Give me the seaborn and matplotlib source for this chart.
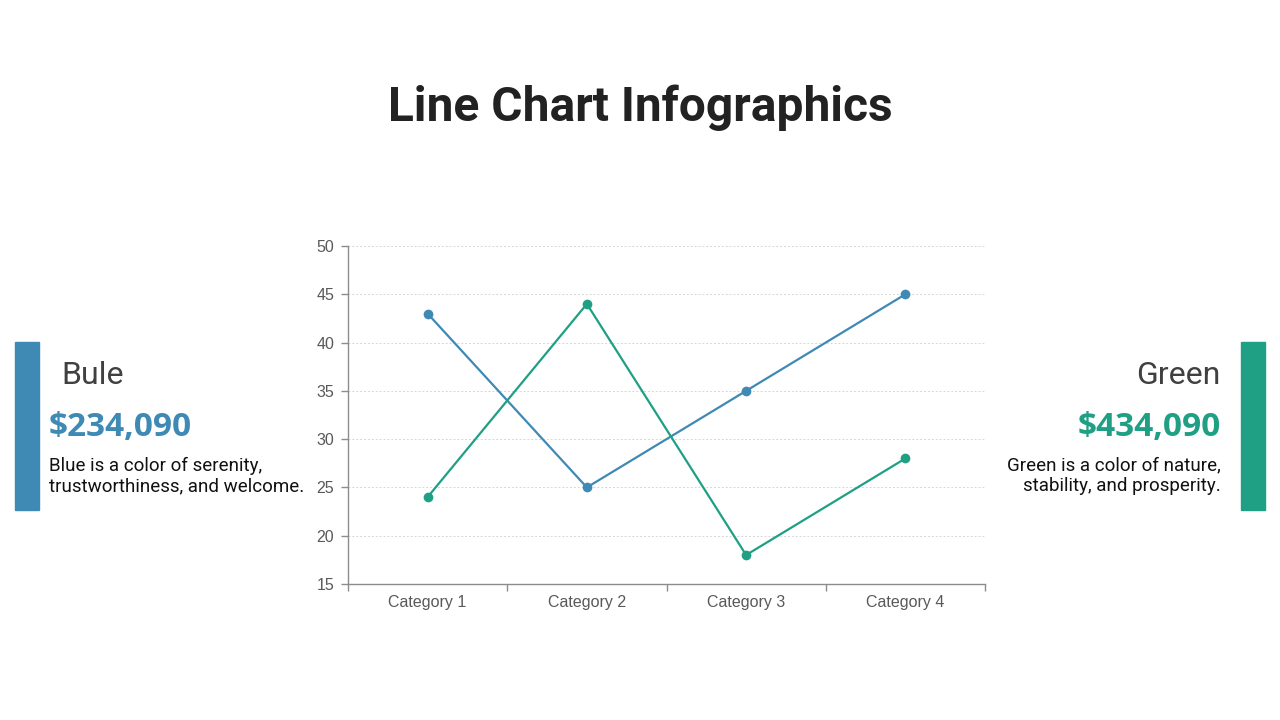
import matplotlib
matplotlib.use("Agg")
import matplotlib.pyplot as plt
import seaborn as sns
import pandas as pd
import numpy as np

categories = ["Category 1", "Category 2", "Category 3", "Category 4"]
blue_values = [43, 25, 35, 45]
green_values = [24, 44, 18, 28]
series_names = ["Bule", "Green"]
y_ticks = [15, 20, 25, 30, 35, 40, 45, 50]

BLUE = "#3f89b5"
GREEN = "#1f9f84"

sns.set_theme(style="white")
plt.rcParams["font.family"] = ["Roboto", "DejaVu Sans"]

df = pd.DataFrame({
    "cat": list(range(len(categories))) * 2,
    "value": blue_values + green_values,
    "series": [series_names[0]] * len(categories) + [series_names[1]] * len(categories),
})

fig = plt.figure(figsize=(12.8, 7.2), dpi=100)
ax = fig.add_axes([348 / 1280, 1 - 584 / 720, (985 - 348) / 1280, (584 - 246) / 720])

sns.lineplot(data=df, x="cat", y="value", hue="series",
             palette={series_names[0]: BLUE, series_names[1]: GREEN},
             marker="o", markersize=7, markeredgewidth=0, linewidth=1.6,
             legend=False, ax=ax)

ax.set_xlim(-0.5, len(categories) - 0.5)
ax.set_ylim(15, 50)
ax.set_yticks(y_ticks)
ax.set_yticklabels([str(v) for v in y_ticks], family="Liberation Sans", fontsize=11.5, color="#595959")
ax.set_xticks(range(len(categories)))
ax.set_xticklabels(categories, family="Liberation Sans", fontsize=11.5, color="#595959")
ax.set_xticks(np.arange(-0.5, len(categories), 1.0), minor=True)
ax.tick_params(axis="x", which="major", length=0, pad=8)
ax.tick_params(axis="x", which="minor", length=5, color="#8c8c8c", width=1, direction="out", bottom=True)
ax.tick_params(axis="y", which="major", length=5, color="#8c8c8c", width=1, direction="out", left=True, pad=5)
ax.set_xlabel("")
ax.set_ylabel("")
ax.grid(axis="y", color="#d6d6d6", linestyle=(0, (2, 2)), linewidth=0.7)
ax.set_axisbelow(True)
for s in ["top", "right"]:
    ax.spines[s].set_visible(False)
for s in ["left", "bottom"]:
    ax.spines[s].set_color("#8c8c8c")
    ax.spines[s].set_linewidth(1)

# Title
fig.text(0.5, 1 - 108 / 720, "Line Chart Infographics", ha="center", va="center",
         fontsize=34.5, fontweight="bold", color="#222222", family="Roboto")

# Side panels
fig.patches.append(plt.Rectangle((15 / 1280, 1 - 510 / 720), 24 / 1280, 168 / 720,
                                 transform=fig.transFigure, color=BLUE, zorder=1))
fig.patches.append(plt.Rectangle((1241 / 1280, 1 - 510 / 720), 24 / 1280, 168 / 720,
                                 transform=fig.transFigure, color=GREEN, zorder=1))

fig.text(61 / 1280, 1 - 376 / 720, "Bule", ha="left", va="center",
         fontsize=23, color="#404040", family="Roboto")
fig.text(49 / 1280, 1 - 427 / 720, "$234,090", ha="left", va="center",
         fontsize=24, fontweight="bold", color=BLUE, family="Open Sans")
fig.text(49 / 1280, 1 - 476 / 720, "Blue is a color of serenity,\ntrustworthiness, and welcome.",
         ha="left", va="center", fontsize=13.5, color="#111111", family="Roboto", linespacing=1.2)

fig.text(1221 / 1280, 1 - 376 / 720, "Green", ha="right", va="center",
         fontsize=23, color="#404040", family="Roboto")
fig.text(1221 / 1280, 1 - 427 / 720, "$434,090", ha="right", va="center",
         fontsize=24, fontweight="bold", color=GREEN, family="Open Sans")
fig.text(1221 / 1280, 1 - 476 / 720, "Green is a color of nature,\nstability, and prosperity.",
         ha="right", va="center", multialignment="right", fontsize=13.5, color="#111111",
         family="Roboto", linespacing=1.2)

fig.savefig("out.png", dpi=100)
